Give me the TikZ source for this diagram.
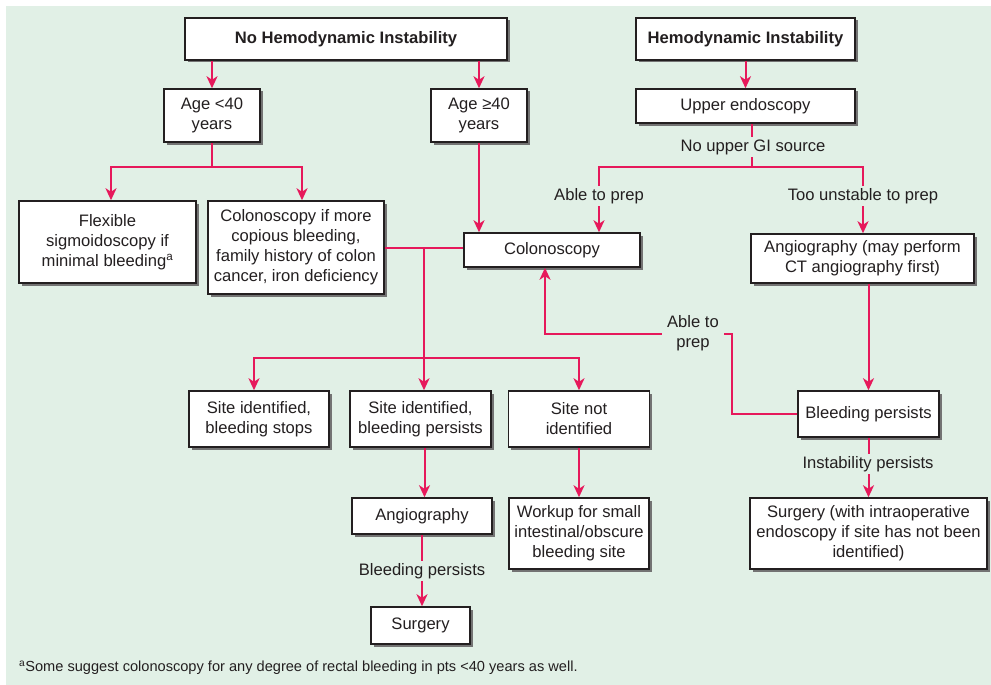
\documentclass[tikz,border=0pt]{standalone}
\usepackage{fontspec}
\setmainfont{Liberation Sans}
\usetikzlibrary{arrows.meta, calc, positioning, shadows}
\definecolor{rot}{HTML}{E6195B}
\definecolor{grund}{HTML}{E1F0E6}
\definecolor{schrift}{HTML}{231F20}

\begin{document}
\begin{tikzpicture}[x=1pt, y=-1pt,
        box/.style={draw=schrift, line width=1.5pt, fill=white, align=center, inner sep=2pt,
                    font=\fontsize{16.6}{20}\selectfont, text=schrift,
                    drop shadow={shadow xshift=2.5pt, shadow yshift=-2.5pt, fill=black!55, opacity=1}},
        lbl/.style={inner sep=2.5pt, align=center, font=\fontsize{16.6}{20}\selectfont, text=schrift},
        arr/.style={-{Stealth[length=12pt, width=11pt, inset=3.5pt]}, line width=2pt, rot},
        lin/.style={line width=2pt, rot}
      ]
      \useasboundingbox (0,0) rectangle (991,685);
      \fill[grund] (6,6) rectangle (991,685);

      % Kopfzeile
      \node[box, minimum width=322pt, minimum height=42pt] (nHI) at (346,39) {\textbf{No Hemodynamic Instability}};
      \node[box, minimum width=219pt, minimum height=42pt] (hI) at (745.5,39) {\textbf{Hemodynamic Instability}};

      % linke Seite
      \node[box, minimum width=96pt, minimum height=53pt] (aJung) at (212,115.5) {Age <40\\years};
      \node[box, minimum width=96pt, minimum height=53pt] (aAlt) at (479,115.5) {Age ≥40\\years};
      \node[box, minimum width=177pt, minimum height=82pt] (flex) at (107.5,242) {Flexible\\sigmoidoscopy if\\minimal bleeding\textsuperscript{a}};
      \node[box, minimum width=176pt, minimum height=93pt] (kolWenn) at (296,247.5) {Colonoscopy if more\\copious bleeding,\\family history of colon\\cancer, iron deficiency};
      \node[box, minimum width=176pt, minimum height=34pt] (kol) at (552,250) {Colonoscopy};
      \node[box, minimum width=140pt, minimum height=56pt] (sStop) at (259,419) {Site identified,\\bleeding stops};
      \node[box, minimum width=141pt, minimum height=56pt] (sWeiter) at (420.5,419) {Site identified,\\bleeding persists};
      \node[box, minimum width=141pt, minimum height=56pt] (sNicht) at (579,419) {Site not\\identified};
      \node[box, minimum width=140pt, minimum height=36pt] (angL) at (422,516) {Angiography};
      \node[box, minimum width=140pt, minimum height=71pt] (workup) at (579,533.5) {Workup for small\\intestinal/obscure\\bleeding site};
      \node[box, minimum width=99pt, minimum height=37pt] (opL) at (420.5,625.5) {Surgery};

      % rechte Seite
      \node[box, minimum width=219pt, minimum height=34pt] (oeg) at (745.5,106) {Upper endoscopy};
      \node[box, minimum width=223pt, minimum height=49pt] (angR) at (862.5,258.5) {Angiography (may perform\\CT angiography first)};
      \node[box, minimum width=141pt, minimum height=46pt] (blR) at (868.5,414) {Bleeding persists};
      \node[box, minimum width=237pt, minimum height=71pt] (opR) at (868.5,533.5) {Surgery (with intraoperative\\endoscopy if site has not been\\identified)};

      % Beschriftungen an Pfeilen
      \node[lbl] (keinGI) at (753,147) {No upper GI source};
      \node[lbl] (prepA) at (599,196) {Able to prep};
      \node[lbl] (instab) at (863,196) {Too unstable to prep};
      \node[lbl, inner xsep=5pt] (prepB) at (693,333) {Able to\\prep};
      \node[lbl] (blL) at (422,571) {Bleeding persists};
      \node[lbl] (instWeiter) at (868,464) {Instability persists};

      % Verzweigungspunkte
      \coordinate (jTeil) at (212,167);
      \coordinate (giTeil) at (752,167);
      \coordinate (kTeil) at (424,248);
      \coordinate (sTeil) at (424,358);
      \coordinate (rueck) at (732,334);

      % Pfeile links
      \draw[arr] (nHI.south -| aJung) -- (aJung.north);
      \draw[arr] (nHI.south -| aAlt) -- (aAlt.north);
      \draw[lin] (aJung.south) -- (jTeil);
      \draw[arr] (jTeil) -| ([xshift=3.5pt]flex.north);
      \draw[arr] (jTeil) -| ([xshift=6pt]kolWenn.north);
      \draw[arr] (aAlt.south) -- (aAlt.south |- kol.north);
      \draw[lin] (kolWenn.east |- kTeil) -- (kol.west |- kTeil);
      \draw[arr] (kTeil) -- (kTeil |- sWeiter.north);
      \draw[arr] (sTeil) -| ([xshift=-5pt]sStop.north);
      \draw[arr] (sTeil) -| (sNicht.north);
      \draw[arr] ([xshift=4pt]sWeiter.south) -- ([xshift=4pt]sWeiter.south |- angL.north);
      \draw[arr] (sNicht.south) -- (workup.north);
      \draw[lin] (angL.south -| blL) -- (blL.north);
      \draw[arr] (blL.south) -- (blL.south |- opL.north);

      % Pfeile rechts
      \draw[arr] (hI.south) -- (oeg.north);
      \draw[lin] (oeg.south -| giTeil) -- (keinGI.north -| giTeil);
      \draw[lin] (keinGI.south -| giTeil) -- (giTeil);
      \draw[lin] (prepA.north) |- (giTeil) -| (instab.north);
      \draw[arr] (prepA.south) -- (prepA.south |- kol.north);
      \draw[arr] (instab.south) -- (instab.south |- angR.north);
      \draw[arr] (angR.south -| blR) -- (blR.north);
      \draw[lin] (blR.west) -| (rueck) -- (rueck -| prepB.east);
      \draw[arr] (prepB.west |- rueck) -| ([xshift=-7pt]kol.south);
      \draw[lin] (blR.south) -- (instWeiter.north -| blR);
      \draw[arr] (instWeiter.south -| blR) -- (opR.north);

      \node[anchor=west, inner sep=0pt, font=\fontsize{14.6}{17}\selectfont, text=schrift] (fussnote) at (19,668)
        {\textsuperscript{a}Some suggest colonoscopy for any degree of rectal bleeding in pts <40 years as well.};
    \end{tikzpicture}
\end{document}
